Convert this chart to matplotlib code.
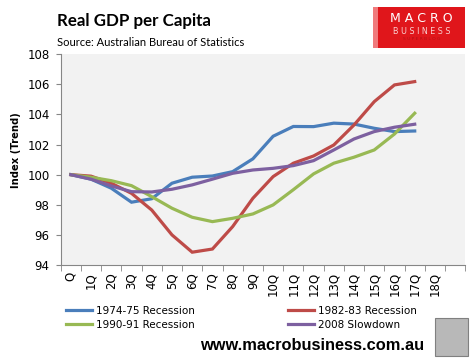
import matplotlib
matplotlib.use('Agg')
import matplotlib.pyplot as plt
from matplotlib.patches import Rectangle

# data
quarters = ['Q'] + [f'{i}Q' for i in range(1, 19)] + ['']
rec_1974 = [100.0, 99.7, 99.1, 98.17, 98.4, 99.43, 99.83, 99.91, 100.2, 101.05,
            102.55, 103.2, 103.19, 103.42, 103.36, 103.08, 102.86, 102.9]
rec_1982 = [100.0, 99.9, 99.43, 98.76, 97.65, 96.0, 94.85, 95.06, 96.55, 98.43,
            99.87, 100.76, 101.24, 101.97, 103.3, 104.85, 105.96, 106.18]
rec_1990 = [100.0, 99.83, 99.6, 99.27, 98.54, 97.77, 97.17, 96.88, 97.1, 97.39,
            97.99, 99.0, 100.05, 100.76, 101.16, 101.64, 102.7, 104.08]
slow_2008 = [100.0, 99.7, 99.25, 98.87, 98.85, 99.03, 99.32, 99.7, 100.09, 100.31,
             100.42, 100.6, 100.93, 101.64, 102.37, 102.86, 103.15, 103.35]

series = [
    ('1974-75 Recession', rec_1974, '#4a7ebb'),
    ('1982-83 Recession', rec_1982, '#be4b48'),
    ('1990-91 Recession', rec_1990, '#98b954'),
    ('2008 Slowdown', slow_2008, '#7d60a0'),
]

fig = plt.figure(figsize=(4.76, 3.58), dpi=100)
ax = fig.add_axes([0.1275, 0.2598, 0.85, 0.5888])
ax.set_facecolor('#f2f2f2')

for label, vals, col in series:
    ax.plot(range(len(vals)), vals, color=col, lw=2.3, label=label,
            solid_joinstyle='miter')

ax.set_xlim(-0.5, len(quarters) - 0.5)
ax.set_ylim(94, 108)
ax.set_yticks(range(94, 109, 2))
ax.set_xticks(range(len(quarters)))
ax.set_xticklabels(quarters, rotation=90, fontsize=8.5)
ax.set_xticks([i - 0.5 for i in range(len(quarters) + 1)], minor=True)
ax.tick_params(axis='x', which='major', length=0, pad=5)
ax.tick_params(axis='x', which='minor', length=4, color='#868686', direction='out')
ax.tick_params(axis='y', length=3.5, color='#868686', labelsize=8.5, pad=4.5)
for s in ['top', 'right']:
    ax.spines[s].set_visible(False)
for s in ['left', 'bottom']:
    ax.spines[s].set_color('#868686')
fig.text(16 / 476, 1 - 150 / 358, 'Index (Trend)', fontsize=7.2, fontweight='bold',
         rotation=90, ha='center', va='center')

handles, labels = ax.get_legend_handles_labels()
order = [0, 2, 1, 3]
fig.legend([handles[i] for i in order], [labels[i] for i in order],
           ncol=2, loc='upper left', bbox_to_anchor=(66 / 476, 1 - 306 / 358),
           frameon=False, borderpad=0, borderaxespad=0,
           fontsize=7.5, handlelength=2.5, handletextpad=0.4, columnspacing=8.9,
           labelspacing=0.35)

fig.text(0.12, 0.94, 'Real GDP per Capita', fontsize=12.2, fontweight='bold',
         family='Lato', va='center')
fig.text(0.12, 0.88, 'Source: Australian Bureau of Statistics', fontsize=8,
         family='Lato', va='center')

# logo box top right
fig.patches.append(Rectangle((0.783, 0.866), 0.194, 0.115, transform=fig.transFigure,
                             facecolor='#e0161b', edgecolor='none'))
fig.patches.append(Rectangle((0.783, 0.866), 0.012, 0.115, transform=fig.transFigure,
                             facecolor='#f07a7c', edgecolor='none'))
fig.text(0.885, 0.947, 'M A C R O', color='white', fontsize=9, ha='center', va='center')
fig.text(0.885, 0.913, 'B U S I N E S S', color='#f8d0d0', fontsize=5.8, ha='center',
         va='center')
fig.text(0.885, 0.89, 'S U P E R B L O G', color='#b51015', fontsize=3.2, ha='center',
         va='center')

# wolf picture placeholder
fig.patches.append(Rectangle((435 / 476, 0.006), 0.069, 0.106, transform=fig.transFigure,
                             facecolor='#b8b8b8', edgecolor='#808080', lw=0.8))

fig.text(0.656, 0.036, 'www.macrobusiness.com.au', fontsize=11.8, fontweight='bold',
         family='Liberation Sans', ha='center', va='center')

fig.savefig('out.png', dpi=100)
